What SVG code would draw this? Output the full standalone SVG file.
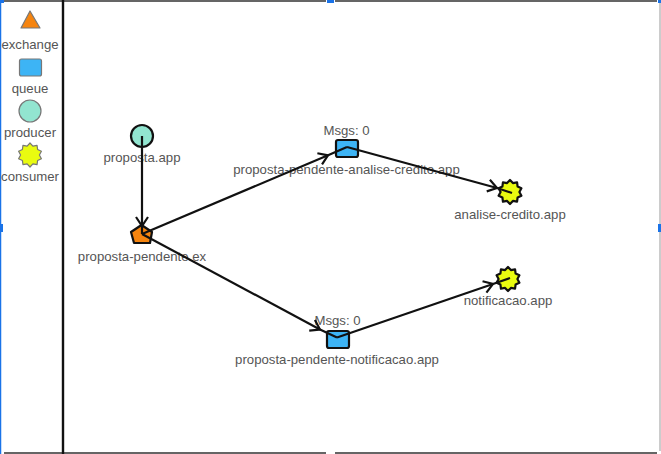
<svg xmlns="http://www.w3.org/2000/svg" width="661" height="454" viewBox="0 0 661 454">
<style>
text{font-family:"Liberation Sans",Arial,sans-serif;font-size:13.2px;fill:#555;text-anchor:middle}
.edge{fill:none;stroke:#111;stroke-width:2.2;marker-end:url(#arrow)}
.s{stroke:#111;stroke-width:2.2;stroke-linejoin:round}
.l{stroke:#777;stroke-width:1.2;stroke-linejoin:round}
.ex{fill:#f5840f}.qu{fill:#3db4f5}.pr{fill:#92e5d0}.co{fill:#e9fb10}
.h{fill:#1a73e8}
</style>
<defs>
<marker id="arrow" markerUnits="userSpaceOnUse" markerWidth="16" markerHeight="16" refX="12" refY="6" orient="auto" overflow="visible">
<path d="M3 0L12 6L3 12" fill="none" stroke="#111" stroke-width="2.2"/>
</marker>
<path id="burst" d="M0-12L2.900-8.900L7.050-9.700L7.600-5.500L11.400-3.700L9.400 0L11.400 3.700L7.600 5.500L7.050 9.700L2.900 8.900L0 12L-2.900 8.900L-7.050 9.700L-7.600 5.500L-11.400 3.700L-9.400 0L-11.400-3.700L-7.600-5.500L-7.050-9.700L-2.900-8.900Z"/>
</defs>
<rect width="661" height="454" fill="#fff"/>
<g id="frame">
<path d="M4 1H326M335 1H657M4 453H326M335 453H657" stroke="#333" stroke-width="1.5" fill="none"/>
<path d="M63 0V454" stroke="#111" stroke-width="2.4" fill="none"/>
<path d="M660 3V451" stroke="#bbb" stroke-width="1.5" fill="none"/>
<path d="M.5 0V454" stroke="#1a73e8" stroke-width="1.5" fill="none"/>
<rect class="h" x="0" y="0" width="4" height="3"/>
<rect class="h" x="327" y="0" width="7" height="3"/>
<rect class="h" x="658" y="0" width="3" height="3"/>
<rect class="h" x="0" y="224" width="3" height="8"/>
<rect class="h" x="658" y="224" width="3" height="8"/>
</g>
<g id="legend-exchange"><path class="ex l" d="M30 11L40 28H21Z"/><text x="30" y="49">exchange</text></g>
<g id="legend-queue"><rect class="qu l" x="19.500" y="59" width="22" height="17" rx="2"/><text x="30" y="93">queue</text></g>
<g id="legend-producer"><circle class="pr l" cx="30" cy="111" r="11"/><text x="30" y="137">producer</text></g>
<g id="legend-consumer"><use href="#burst" class="co l" x="30" y="155"/><text x="30" y="181">consumer</text></g>
<g id="proposta-app"><circle class="pr s" cx="142" cy="136" r="11"/><text x="142" y="162">proposta.app</text></g>
<g id="proposta-pendente-ex"><path class="ex s" d="M141.500 225L152 232L150 243H134L131 232Z"/><text x="142" y="261">proposta-pendente.ex</text></g>
<g id="queue-analise"><rect class="qu s" x="336" y="140" width="22" height="17" rx="2"/><text x="346.500" y="135">Msgs: 0</text><text x="346.500" y="174">proposta-pendente-analise-credito.app</text></g>
<g id="queue-notificacao"><rect class="qu s" x="327" y="331" width="22" height="17" rx="2"/><text x="337.500" y="325">Msgs: 0</text><text x="337" y="364">proposta-pendente-notificacao.app</text></g>
<g id="analise-credito-app"><use href="#burst" class="co s" x="510" y="192"/><text x="510" y="219">analise-credito.app</text></g>
<g id="notificacao-app"><use href="#burst" class="co s" x="508" y="279"/><text x="508" y="305">notificacao.app</text></g>
<g id="connectors">
<path class="edge" d="M142 136V226"/>
<path class="edge" d="M142 234L328 155.300"/>
<path class="edge" d="M142 234L320 329.500"/>
<path class="edge" d="M347 147L497 188"/>
<path class="edge" d="M337 337.500L493 284"/>
<path d="M142 226V234M328 155.300L347 147M320 329.500L337 337.500M497 188L512 193M493 284L510 278" fill="none" stroke="#111" stroke-width="2.2"/>
</g>
</svg>
